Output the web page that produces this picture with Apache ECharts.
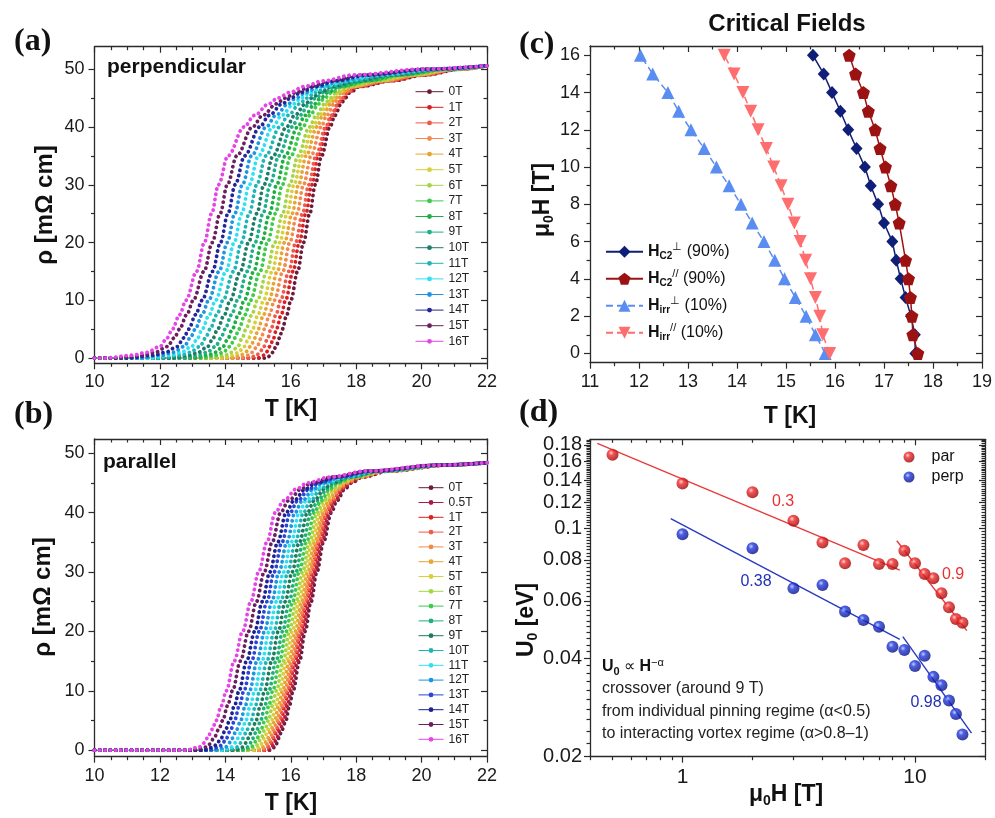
<!DOCTYPE html>
<html>
<head>
<meta charset="utf-8">
<title>Critical fields</title>
<script src="https://cdn.jsdelivr.net/npm/echarts@6.0.0/dist/echarts.min.js"></script>
<style>
html, body { margin:0; padding:0; background:#ffffff; }
#chart { width:995px; height:818px; }
</style>
</head>
<body>
<div id="chart"></div>
<script>
// ================= DATA =================
// (a) perpendicular: temperature (K) at which each curve reaches the resistivity levels below
const perpFields = ['0T','1T','2T','3T','4T','5T','6T','7T','8T','9T','10T','11T','12T','13T','14T','15T','16T'];
const perpRhoLevels = [0, 0.5, 1, 2, 3.5, 5, 7.5, 10, 15, 20, 25, 30, 35, 40, 42, 44, 45, 46, 47, 48, 49, 50];
const perp0T  = [15.25,15.40,15.45,15.55,15.66,15.74,15.88,16.00,16.21,16.39,16.58,16.75,16.94,17.20,17.35,17.54,17.66,17.82,18.10,19.10,20.10,21.20];
const perp1T  = [14.99,15.18,15.25,15.36,15.48,15.56,15.71,15.84,16.07,16.26,16.46,16.64,16.84,17.12,17.27,17.47,17.60,17.77,18.05,19.04,20.04,21.17];
const perp2T  = [14.74,14.96,15.05,15.18,15.30,15.39,15.55,15.69,15.94,16.15,16.36,16.55,16.77,17.07,17.23,17.44,17.57,17.74,18.03,19.01,20.01,21.15];
const perp3T  = [14.44,14.71,14.82,14.97,15.10,15.19,15.35,15.50,15.76,15.97,16.19,16.39,16.62,16.93,17.10,17.32,17.46,17.64,17.94,18.90,19.89,21.09];
const perp4T  = [14.17,14.47,14.61,14.77,14.91,15.00,15.17,15.33,15.59,15.81,16.04,16.24,16.47,16.80,16.98,17.22,17.36,17.56,17.86,18.80,19.78,21.03];
const perp5T  = [13.90,14.25,14.40,14.58,14.72,14.83,15.00,15.17,15.43,15.66,15.89,16.10,16.35,16.68,16.88,17.12,17.28,17.48,17.78,18.71,19.69,20.98];
const perp6T  = [13.61,14.00,14.18,14.38,14.52,14.63,14.81,14.98,15.27,15.51,15.75,15.97,16.22,16.57,16.78,17.04,17.20,17.41,17.72,18.63,19.61,20.93];
const perp7T  = [13.29,13.73,13.93,14.14,14.30,14.41,14.60,14.77,15.06,15.29,15.53,15.74,16.00,16.37,16.58,16.86,17.03,17.26,17.58,18.46,19.43,20.83];
const perp8T  = [12.99,13.47,13.69,13.93,14.09,14.21,14.40,14.58,14.87,15.11,15.35,15.57,15.83,16.21,16.44,16.73,16.91,17.15,17.48,18.34,19.30,20.76];
const perp9T  = [12.67,13.20,13.44,13.70,13.87,13.99,14.19,14.37,14.67,14.91,15.15,15.37,15.63,16.03,16.27,16.57,16.76,17.02,17.36,18.19,19.14,20.68];
const perp10T = [12.33,12.91,13.18,13.46,13.63,13.76,13.97,14.15,14.46,14.71,14.96,15.18,15.46,15.87,16.12,16.45,16.64,16.91,17.26,18.07,19.02,20.61];
const perp11T = [12.00,12.62,12.92,13.22,13.40,13.53,13.74,13.93,14.25,14.49,14.73,14.96,15.24,15.66,15.92,16.27,16.48,16.76,17.12,17.89,18.84,20.51];
const perp12T = [11.65,12.32,12.65,12.97,13.16,13.29,13.51,13.70,14.02,14.27,14.50,14.73,15.01,15.45,15.72,16.09,16.31,16.61,16.99,17.72,18.66,20.41];
const perp13T = [11.33,12.05,12.40,12.74,12.93,13.08,13.29,13.49,13.81,14.06,14.29,14.52,14.80,15.25,15.54,15.92,16.15,16.47,16.86,17.56,18.49,20.32];
const perp14T = [11.03,11.80,12.17,12.53,12.73,12.88,13.09,13.29,13.61,13.85,14.08,14.30,14.59,15.05,15.34,15.74,15.99,16.32,16.72,17.39,18.31,20.22];
const perp15T = [10.62,11.45,11.85,12.23,12.44,12.60,12.82,13.02,13.35,13.60,13.84,14.06,14.35,14.83,15.14,15.56,15.82,16.17,16.58,17.22,18.13,20.13];
const perp16T = [10.30,11.17,11.60,12.00,12.22,12.38,12.60,12.80,13.12,13.36,13.58,13.79,14.08,14.57,14.89,15.33,15.60,15.98,16.40,17.00,17.90,20.00];
const perpRhoAt22K = 50.6;

// (b) parallel
const parFields = ['0T','0.5T','1T','2T','3T','4T','5T','6T','7T','8T','9T','10T','11T','12T','13T','14T','15T','16T'];
const parRhoLevels = [0, 0.5, 1, 2, 3.5, 5, 7.5, 10, 15, 20, 25, 30, 35, 40, 42, 44, 45, 46, 47, 48];
const par0T   = [15.40,15.50,15.55,15.63,15.74,15.85,15.96,16.07,16.27,16.44,16.62,16.80,17.00,17.24,17.41,17.66,17.85,18.20,19.00,20.80];
const par05T  = [15.32,15.43,15.48,15.57,15.68,15.79,15.90,16.01,16.21,16.38,16.57,16.75,16.95,17.19,17.36,17.62,17.81,18.17,18.98,20.79];
const par1T   = [15.22,15.34,15.40,15.48,15.59,15.71,15.82,15.93,16.13,16.31,16.50,16.68,16.88,17.12,17.30,17.56,17.76,18.13,18.95,20.78];
const par2T   = [15.17,15.29,15.35,15.43,15.55,15.66,15.77,15.89,16.09,16.27,16.45,16.64,16.84,17.09,17.26,17.53,17.73,18.11,18.94,20.77];
const par3T   = [15.09,15.22,15.28,15.37,15.48,15.59,15.71,15.82,16.03,16.21,16.40,16.59,16.79,17.03,17.21,17.48,17.69,18.08,18.92,20.76];
const par4T   = [14.99,15.14,15.19,15.29,15.40,15.51,15.63,15.75,15.95,16.14,16.33,16.52,16.73,16.97,17.15,17.43,17.64,18.04,18.89,20.75];
const par5T   = [14.87,15.03,15.09,15.19,15.31,15.42,15.54,15.66,15.86,16.05,16.25,16.44,16.65,16.89,17.08,17.36,17.58,18.00,18.86,20.74];
const par6T   = [14.75,14.93,14.99,15.09,15.21,15.32,15.44,15.56,15.77,15.96,16.16,16.36,16.57,16.81,17.00,17.29,17.51,17.95,18.83,20.73];
const par7T   = [14.61,14.80,14.87,14.97,15.09,15.21,15.33,15.45,15.66,15.86,16.06,16.26,16.48,16.72,16.92,17.21,17.44,17.90,18.79,20.71];
const par8T   = [14.46,14.67,14.74,14.84,14.97,15.08,15.21,15.33,15.55,15.75,15.95,16.16,16.37,16.62,16.82,17.12,17.36,17.84,18.75,20.69];
const par9T   = [14.29,14.52,14.59,14.70,14.83,14.94,15.07,15.20,15.42,15.62,15.83,16.04,16.26,16.51,16.71,17.03,17.27,17.77,18.70,20.67];
const par10T  = [14.10,14.35,14.43,14.54,14.67,14.79,14.92,15.05,15.27,15.49,15.70,15.91,16.14,16.39,16.60,16.92,17.18,17.70,18.65,20.65];
const par11T  = [13.91,14.18,14.26,14.38,14.51,14.63,14.76,14.90,15.12,15.34,15.56,15.78,16.01,16.26,16.47,16.81,17.07,17.63,18.60,20.63];
const par12T  = [13.71,14.01,14.09,14.21,14.35,14.47,14.61,14.74,14.97,15.20,15.42,15.64,15.88,16.13,16.35,16.70,16.97,17.55,18.55,20.61];
const par13T  = [13.49,13.81,13.90,14.03,14.17,14.28,14.43,14.57,14.80,15.04,15.27,15.49,15.73,15.98,16.21,16.57,16.86,17.47,18.49,20.58];
const par14T  = [13.30,13.64,13.73,13.87,14.01,14.13,14.28,14.42,14.65,14.90,15.13,15.36,15.60,15.86,16.09,16.46,16.76,17.39,18.43,20.56];
const par15T  = [13.04,13.41,13.51,13.65,13.80,13.92,14.07,14.22,14.46,14.71,14.95,15.19,15.43,15.69,15.93,16.32,16.63,17.29,18.37,20.53];
const par16T  = [12.80,13.20,13.30,13.45,13.60,13.72,13.88,14.03,14.27,14.53,14.78,15.02,15.27,15.53,15.78,16.18,16.50,17.20,18.30,20.50];
const parRhoAt22K = 48.4;
const tempStart = 10, tempEnd = 22;

// (c) critical fields
const fieldC = [0,1,2,3,4,5,6,7,8,9,10,11,12,13,14,15,16];
const hc2PerpT = [17.64,17.63,17.55,17.44,17.34,17.25,17.17,17.00,16.88,16.73,16.61,16.44,16.27,16.11,15.94,15.77,15.55];
const hc2ParField = [0,1,2,3,4,5,7,8,9,10,11,12,13,14,15,16];
const hc2ParT = [17.69,17.59,17.57,17.54,17.50,17.44,17.31,17.23,17.14,17.03,16.92,16.82,16.68,16.58,16.42,16.29];
const hirrPerpT = [15.80,15.60,15.41,15.19,14.97,14.77,14.55,14.31,14.08,13.84,13.58,13.33,13.06,12.81,12.59,12.28,12.03];
const hirrParT = [15.89,15.75,15.69,15.60,15.50,15.40,15.29,15.17,15.04,14.90,14.75,14.60,14.43,14.28,14.12,13.94,13.74];

// (d) activation energy
const parH = [0.5,1,2,3,4,5,6,7,8,9,10,11,12,13,14,15,16];
const parU = [0.168,0.137,0.129,0.1055,0.0904,0.0781,0.0889,0.0778,0.0778,0.0854,0.0781,0.0725,0.0703,0.0633,0.0573,0.0528,0.0514];
const perpH = [1,2,3,4,5,6,7,8,9,10,11,12,13,14,15,16];
const perpU = [0.0959,0.0869,0.0655,0.0671,0.0556,0.0524,0.0500,0.0434,0.0424,0.0379,0.0407,0.0351,0.0331,0.0297,0.0270,0.0234];
const parFitLowH = [0.43, 8.6],  parFitLowU = [0.182, 0.0745];
const parFitHighH = [8.35, 16.7], parFitHighU = [0.0916, 0.0486];
const perpFitLowH = [0.89, 8.6],  perpFitLowU = [0.107, 0.0457];
const perpFitHighH = [8.86, 17.5], perpFitHighU = [0.0466, 0.0236];

// tick labels
const rhoTicks = [0, 10, 20, 30, 40, 50];
const tempTicksAB = [10, 12, 14, 16, 18, 20, 22];
const tempTicksC = [11, 12, 13, 14, 15, 16, 17, 18, 19];
const fieldTicksC = [0, 2, 4, 6, 8, 10, 12, 14, 16];
const fieldTicksD = [1, 10];
const energyTicksD = [0.02, 0.04, 0.06, 0.08, 0.1, 0.12, 0.14, 0.16, 0.18];
const energyTicksDOdd = [0.02, 0.06, 0.1, 0.14, 0.18];
const energyTicksDEven = [0.04, 0.08, 0.12, 0.16];

// ================= STYLE =================
const perpColors = ['#6b1c3c','#d81f22','#f0584c','#f28a4a','#e6a535','#d8cf3a','#a6d445','#3fca4a','#1fae45','#1fb08a','#1e7d68','#1fb5b5','#2fe1f0','#1e95e0','#25259a','#6a1f5e','#e545e6'];
const parColors = ['#6b1c3c','#a81e4a','#e02020','#f05a4a','#f28a4a','#e6a535','#d8cf3a','#a6d445','#3fca4a','#1fb07a','#1e7d58','#1fb5b5','#2fe1f0','#1e95e0','#2a45d8','#1e2290','#6a1f5e','#e545e6'];
const SANS = '"Liberation Sans", Arial, Helvetica, sans-serif';
const SERIF = '"Liberation Serif", "Times New Roman", serif';
const AX = '#2a2a2a';

const perpTemps = [perp0T,perp1T,perp2T,perp3T,perp4T,perp5T,perp6T,perp7T,perp8T,perp9T,perp10T,perp11T,perp12T,perp13T,perp14T,perp15T,perp16T];
const parTemps = [par0T,par05T,par1T,par2T,par3T,par4T,par5T,par6T,par7T,par8T,par9T,par10T,par11T,par12T,par13T,par14T,par15T,par16T];

function steps(from, to, step) {
  const out = [];
  for (let v = from; v <= to + 1e-9; v += step) out.push(Math.round(v * 10000) / 10000);
  return out;
}
function without(list, majors) {
  return list.filter(v => !majors.some(m => Math.abs(m - v) < 1e-6));
}

function labelCfg(vals, fontSize, margin, fmt) {
  const lab = {show: true, customValues: vals, fontSize: fontSize, margin: margin, color: '#1a1a1a', fontFamily: SANS,
    hideOverlap: false, showMinLabel: true, showMaxLabel: true};
  if (fmt) lab.formatter = fmt;
  return lab;
}

function axesFor(dim, grid, min, max, majors, minors, fontSize, margin, fmt, labelVals) {
  const main = dim === 'x' ? 'bottom' : 'left';
  const mirror = dim === 'x' ? 'top' : 'right';
  const common = {type: 'value', gridIndex: grid, min: min, max: max, splitLine: {show: false}, splitArea: {show: false}, silent: true};
  const line = {show: true, onZero: false, lineStyle: {color: AX, width: 1.3}};
  const noLine = {show: false, onZero: false};
  const tick = (vals, len, inside) => ({show: true, inside: inside, length: len, customValues: vals, lineStyle: {color: AX, width: 1.2}});
  return [
    Object.assign({}, common, {position: main, axisLine: line, axisTick: tick(majors, 6, false), axisLabel: labelCfg(labelVals || majors, fontSize, margin, fmt)}),
    Object.assign({}, common, {position: main, axisLine: noLine, axisTick: tick(minors, 3.5, false), axisLabel: {show: false}}),
    Object.assign({}, common, {position: mirror, axisLine: line, axisTick: tick(majors, 6, true), axisLabel: {show: false}}),
    Object.assign({}, common, {position: mirror, axisLine: noLine, axisTick: tick(minors, 3.5, true), axisLabel: {show: false}})
  ];
}

const xAxes = [], yAxes = [];
// grid 0 (a)
xAxes.push(...axesFor('x', 0, 10, 22, tempTicksAB, without(steps(10, 22, 0.5), tempTicksAB), 18, 10));
yAxes.push(...axesFor('y', 0, -0.9, 53.9, rhoTicks, [5, 15, 25, 35, 45], 18, 10));
// grid 1 (b)
xAxes.push(...axesFor('x', 1, 10, 22, tempTicksAB, without(steps(10, 22, 0.5), tempTicksAB), 18, 10));
yAxes.push(...axesFor('y', 1, -1.1, 52.4, rhoTicks, [5, 15, 25, 35, 45], 18, 10));
// grid 2 (c)
xAxes.push(...axesFor('x', 2, 11, 19, tempTicksC, without(steps(11, 19, 0.5), tempTicksC), 18, 10));
yAxes.push(...axesFor('y', 2, -0.5, 16.5, fieldTicksC, without(steps(0, 16, 1), fieldTicksC), 18, 10));
// grid 3 (d): hidden log axes carry the data, value overlays in log10 space carry ticks/labels
const dXmin = 0.4, dXmax = 20, dYmin = 0.02, dYmax = 0.1872;
xAxes.push({type: 'log', logBase: 10, gridIndex: 3, min: dXmin, max: dXmax, show: false});
yAxes.push({type: 'log', logBase: 10, gridIndex: 3, min: dYmin, max: dYmax, show: false});
const lg = v => Math.log10(v);
const fmtPow = v => String(parseFloat(Math.pow(10, v).toFixed(3)));
const dXminor = [0.4,0.5,0.6,0.7,0.8,0.9,2,3,4,5,6,7,8,9,20];
const dYminor = without(steps(0.022, 0.186, 0.002), energyTicksD);
xAxes.push(...axesFor('x', 3, lg(dXmin) - 1e-9, lg(dXmax) + 1e-9, fieldTicksD.map(lg), dXminor.map(lg), 21, 10, fmtPow));
yAxes.push(...axesFor('y', 3, lg(dYmin) - 1e-9, lg(dYmax), energyTicksD.map(lg), dYminor.map(lg), 20, 8, fmtPow, energyTicksDOdd.map(lg)));
// second label-only overlay so tightly spaced labels are not dropped
yAxes.push({type: 'value', gridIndex: 3, min: lg(dYmin) - 1e-9, max: lg(dYmax), position: 'left', silent: true,
  splitLine: {show: false}, axisLine: {show: false, onZero: false}, axisTick: {show: false},
  axisLabel: labelCfg(energyTicksDEven.map(lg), 20, 8, fmtPow)});

// ================= SERIES =================
function curveSeries(prefix, fields, colors, temps, levels, rhoEnd, xi, yi) {
  return fields.map((f, k) => ({
    type: 'line', name: prefix + f, xAxisIndex: xi, yAxisIndex: yi,
    data: [[tempStart, 0]].concat(levels.map((r, i) => [temps[k][i], r])).concat([[tempEnd, rhoEnd]]),
    symbol: 'circle', showSymbol: false, symbolSize: 5,
    smooth: 0.35, smoothMonotone: 'x',
    lineStyle: {color: colors[k], width: 3.8, type: [0.1, 5.2], cap: 'round'},
    itemStyle: {color: colors[k]},
    silent: true, z: 2
  }));
}

const series = [];
series.push(...curveSeries('a:', perpFields, perpColors, perpTemps, perpRhoLevels, perpRhoAt22K, 0, 0));
series.push(...curveSeries('b:', parFields, parColors, parTemps, parRhoLevels, parRhoAt22K, 4, 4));

const pentagon = 'path://M0,-1 L0.951,-0.309 L0.588,0.809 L-0.588,0.809 L-0.951,-0.309 Z';
const downTri = 'path://M-1,-0.8 L1,-0.8 L0,0.9 Z';
const cNavy = '#0f1f78', cDark = '#9c1212', cBlue = '#5a8df2', cSalmon = '#ff6e6e';
series.push({type: 'line', name: 'Hc2perp', xAxisIndex: 8, yAxisIndex: 8, data: hc2PerpT.map((t, i) => [t, fieldC[i]]),
  symbol: 'diamond', symbolSize: [12, 13], lineStyle: {color: cNavy, width: 1.5}, itemStyle: {color: cNavy}, z: 4});
series.push({type: 'line', name: 'Hc2par', xAxisIndex: 8, yAxisIndex: 8, data: hc2ParT.map((t, i) => [t, hc2ParField[i]]),
  symbol: pentagon, symbolSize: 13, lineStyle: {color: cDark, width: 1.5}, itemStyle: {color: cDark}, z: 4});
series.push({type: 'line', name: 'Hirrperp', xAxisIndex: 8, yAxisIndex: 8, data: hirrPerpT.map((t, i) => [t, fieldC[i]]),
  symbol: 'triangle', symbolSize: 13, lineStyle: {color: cBlue, width: 1.5, type: [7, 4]}, itemStyle: {color: cBlue}, z: 4});
series.push({type: 'line', name: 'Hirrpar', xAxisIndex: 8, yAxisIndex: 8, data: hirrParT.map((t, i) => [t, fieldC[i]]),
  symbol: downTri, symbolSize: 13, lineStyle: {color: cSalmon, width: 1.5, type: [7, 4]}, itemStyle: {color: cSalmon}, z: 4});

const ballRed = {type: 'radial', x: 0.38, y: 0.35, r: 0.62, colorStops: [{offset: 0, color: '#ffc8c8'}, {offset: 0.35, color: '#f02828'}, {offset: 1, color: '#a00808'}]};
const ballBlue = {type: 'radial', x: 0.38, y: 0.35, r: 0.62, colorStops: [{offset: 0, color: '#b8c4ff'}, {offset: 0.35, color: '#2038e0'}, {offset: 1, color: '#0a1288'}]};
const fitLine = (name, hs, us, color) => ({type: 'line', name: name, xAxisIndex: 12, yAxisIndex: 12,
  data: hs.map((h, i) => [h, us[i]]), symbol: 'none', lineStyle: {color: color, width: 1.4}, silent: true, z: 3});
series.push(fitLine('fitParLow', parFitLowH, parFitLowU, '#e83a3a'));
series.push(fitLine('fitParHigh', parFitHighH, parFitHighU, '#e83a3a'));
series.push(fitLine('fitPerpLow', perpFitLowH, perpFitLowU, '#2a3ac0'));
series.push(fitLine('fitPerpHigh', perpFitHighH, perpFitHighU, '#2a3ac0'));
series.push({type: 'scatter', name: 'par', xAxisIndex: 12, yAxisIndex: 12, data: parH.map((h, i) => [h, parU[i]]),
  symbol: 'circle', symbolSize: 12, itemStyle: {color: ballRed}, z: 5});
series.push({type: 'scatter', name: 'perp', xAxisIndex: 12, yAxisIndex: 12, data: perpH.map((h, i) => [h, perpU[i]]),
  symbol: 'circle', symbolSize: 12, itemStyle: {color: ballBlue}, z: 5});

// ================= TEXT =================
function txt(x, y, text, o) {
  o = o || {};
  const st = {text: text, fill: o.color || '#111', fontSize: o.size || 16, fontWeight: o.bold ? 'bold' : 'normal',
    fontFamily: o.family || SANS, align: o.align || 'center', verticalAlign: o.valign || 'middle',
    textAlign: o.align || 'center', textVerticalAlign: o.valign || 'middle'};
  if (o.rich) st.rich = o.rich;
  return {type: 'text', x: x, y: y, rotation: o.rot || 0, silent: true, z: 100, style: st};
}
const titleRich = (size) => ({
  a: {fontSize: size, fontWeight: 'bold', fontFamily: SANS, fill: '#111', color: '#111', lineHeight: size + 4},
  s: {fontSize: Math.round(size * 0.62), fontWeight: 'bold', fontFamily: SANS, fill: '#111', color: '#111', lineHeight: Math.round(size * 0.62), verticalAlign: 'bottom'}
});
const R90 = Math.PI / 2;
const graphics = [
  txt(14, 42, '(a)', {size: 32, bold: true, family: SERIF, align: 'left'}),
  txt(14, 415, '(b)', {size: 32, bold: true, family: SERIF, align: 'left'}),
  txt(519, 45, '(c)', {size: 32, bold: true, family: SERIF, align: 'left'}),
  txt(519, 413, '(d)', {size: 32, bold: true, family: SERIF, align: 'left'}),
  txt(787, 24, 'Critical Fields', {size: 24, bold: true}),
  txt(107, 67, 'perpendicular', {size: 21, bold: true, align: 'left'}),
  txt(103, 462, 'parallel', {size: 21, bold: true, align: 'left'}),
  txt(291, 410, 'T [K]', {size: 23, bold: true}),
  txt(291, 804, 'T [K]', {size: 23, bold: true}),
  txt(790, 417, 'T [K]', {size: 23, bold: true}),
  txt(786, 795, '{a|μ}{s|0}{a|H [T]}', {rich: titleRich(23)}),
  txt(45, 205, 'ρ [mΩ cm]', {size: 24, bold: true, rot: R90}),
  txt(43, 597, 'ρ [mΩ cm]', {size: 24, bold: true, rot: R90}),
  txt(543, 200, '{a|μ}{s|0}{a|H [T]}', {rich: titleRich(23), rot: R90}),
  txt(527, 620, '{a|U}{s|0}{a| [eV]}', {rich: titleRich(23), rot: R90}),
  txt(602, 667, '{b|U}{bs|0}{n| ∝ }{b|H}{bp|−α}', {align: 'left', rich: {
    b: {fontSize: 16, fontWeight: 'bold', fontFamily: SANS, fill: '#111', color: '#111', lineHeight: 20},
    n: {fontSize: 16, fontFamily: SANS, fill: '#111', color: '#111', lineHeight: 20},
    bs: {fontSize: 11, fontWeight: 'bold', fontFamily: SANS, fill: '#111', color: '#111', lineHeight: 11, verticalAlign: 'bottom'},
    bp: {fontSize: 11, fontFamily: SANS, fill: '#111', color: '#111', lineHeight: 11, verticalAlign: 'top'}
  }}),
  txt(602, 689, 'crossover (around 9 T)', {size: 16, align: 'left', color: '#222'}),
  txt(602, 712, 'from individual pinning regime (α<0.5)', {size: 16, align: 'left', color: '#222'}),
  txt(602, 734, 'to interacting vortex regime (α>0.8–1)', {size: 16, align: 'left', color: '#222'}),
  txt(783, 502, '0.3', {size: 16, color: '#e83030'}),
  txt(953, 575, '0.9', {size: 16, color: '#e83030'}),
  txt(756, 582, '0.38', {size: 16, color: '#2030b8'}),
  txt(926, 703, '0.98', {size: 16, color: '#2030b8'})
];

// ================= LEGENDS =================
const legendCNames = {
  Hc2perp: '{h|H}{s|C2}{p|⊥}{t| (90%)}',
  Hc2par: '{h|H}{s|C2}{p|//}{t| (90%)}',
  Hirrperp: '{h|H}{s|irr}{p|⊥}{t| (10%)}',
  Hirrpar: '{h|H}{s|irr}{p|//}{t| (10%)}'
};
const legends = [
  {data: perpFields.map(f => 'a:' + f), orient: 'vertical', left: 415, top: 85.7, padding: 0,
   itemWidth: 28, itemHeight: 6, itemGap: 3.6, selectedMode: false, formatter: n => n.slice(2),
   textStyle: {fontSize: 12, lineHeight: 12, color: '#222', fontFamily: SANS},
   lineStyle: {width: 1, type: 'solid', cap: 'butt'}},
  {data: parFields.map(f => 'b:' + f), orient: 'vertical', left: 418, top: 481.7, padding: 0,
   itemWidth: 25, itemHeight: 6, itemGap: 2.8, selectedMode: false, formatter: n => n.slice(2),
   textStyle: {fontSize: 12, lineHeight: 12, color: '#222', fontFamily: SANS},
   lineStyle: {width: 1, type: 'solid', cap: 'butt'}},
  {data: ['Hc2perp', 'Hc2par', 'Hirrperp', 'Hirrpar'], orient: 'vertical', left: 605, top: 241.7, padding: 0,
   itemWidth: 37, itemHeight: 15, itemGap: 7, selectedMode: false, formatter: n => legendCNames[n],
   textStyle: {fontFamily: SANS, color: '#111', rich: {
     h: {fontSize: 16, fontWeight: 'bold', lineHeight: 20, fontFamily: SANS, color: '#111'},
     s: {fontSize: 10, fontWeight: 'bold', lineHeight: 10, verticalAlign: 'bottom', fontFamily: SANS, color: '#111'},
     p: {fontSize: 11, lineHeight: 10, verticalAlign: 'top', fontFamily: SANS, color: '#111'},
     t: {fontSize: 16, lineHeight: 20, fontFamily: SANS, color: '#111'}
   }}},
  {data: ['par', 'perp'], orient: 'vertical', left: 903.5, top: 449, padding: 0, icon: 'circle',
   itemWidth: 11, itemHeight: 11, itemGap: 4, selectedMode: false,
   textStyle: {fontSize: 16, lineHeight: 16, color: '#111', fontFamily: SANS, padding: [0, 0, 0, 12]}}
];

const option = {
  backgroundColor: '#ffffff',
  animation: false,
  grid: [
    {left: 94.5, top: 46.7, width: 392.5, height: 316.6},
    {left: 94.5, top: 439, width: 392.5, height: 317.7},
    {left: 590, top: 46, width: 395, height: 316.7},
    {left: 590, top: 439.3, width: 395, height: 317.4}
  ],
  xAxis: xAxes,
  yAxis: yAxes,
  legend: legends,
  series: series,
  graphic: graphics
};

const chart = echarts.init(document.getElementById('chart'), null, {renderer: 'canvas'});
chart.setOption(option);
</script>
</body>
</html>
